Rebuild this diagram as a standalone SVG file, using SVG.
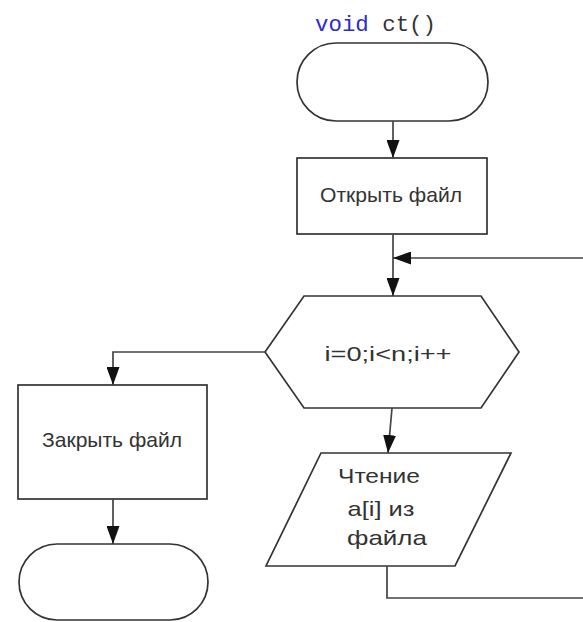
<svg xmlns="http://www.w3.org/2000/svg" width="583" height="622" viewBox="0 0 583 622">
<style>
.shape{fill:#fff;stroke:#333;stroke-width:1.7}
.conn{fill:none;stroke:#444;stroke-width:1.7}
.lbl{font-family:"Liberation Sans",Arial,sans-serif;font-size:21px;fill:#333;text-anchor:middle}
.code{font-family:"Liberation Mono","DejaVu Sans Mono",monospace;font-size:22px}
</style>
<defs>
<marker id="ah" viewBox="0 0 18 13" markerWidth="18" markerHeight="13" refX="18" refY="6.5" orient="auto" markerUnits="userSpaceOnUse">
<path d="M0,0 L18,6.5 L0,13 z" fill="#111"/>
</marker>
</defs>
<rect width="583" height="622" fill="#fff"/>
<text class="code" x="315" y="31" textLength="121" lengthAdjust="spacingAndGlyphs"><tspan fill="#2b2bd0">void</tspan><tspan fill="#333"> ct()</tspan></text>
<g id="start">
<rect class="shape" x="297" y="43" width="191" height="78" rx="39" ry="39"/>
</g>
<g id="open">
<rect class="shape" x="297" y="158" width="190" height="76"/>
<text class="lbl" x="391" y="202" textLength="142" lengthAdjust="spacingAndGlyphs">Открыть файл</text>
</g>
<g id="loop">
<polygon class="shape" points="304,296 481,296 519,352 481,408 304,408 265,352"/>
<text class="lbl" x="388" y="361" font-size="23" textLength="127" lengthAdjust="spacingAndGlyphs">i=0;i&lt;n;i++</text>
</g>
<g id="close">
<rect class="shape" x="18" y="385" width="189" height="114"/>
<text class="lbl" x="112" y="447" textLength="140" lengthAdjust="spacingAndGlyphs">Закрыть файл</text>
</g>
<g id="end">
<rect class="shape" x="19" y="544" width="189" height="76" rx="38" ry="38"/>
</g>
<g id="read">
<polygon class="shape" points="321,453 511,453 455,566 266,566"/>
<text class="lbl" x="379" y="483" textLength="82" lengthAdjust="spacingAndGlyphs">Чтение</text>
<text class="lbl" x="381" y="516" textLength="67" lengthAdjust="spacingAndGlyphs">a[i] из</text>
<text class="lbl" x="387" y="545" textLength="80" lengthAdjust="spacingAndGlyphs">файла</text>
</g>
<g id="connectors">
<path class="conn" d="M393,121 V158" marker-end="url(#ah)"/>
<path class="conn" d="M393,234 V296" marker-end="url(#ah)"/>
<path class="conn" d="M265,352 H113 V385" marker-end="url(#ah)"/>
<path class="conn" d="M113,499 V544" marker-end="url(#ah)"/>
<path class="conn" d="M392,408 L388,453" marker-end="url(#ah)"/>
<path class="conn" d="M387,566 V598 H583"/>
<path class="conn" d="M583,258 H393" marker-end="url(#ah)"/>
</g>
</svg>
